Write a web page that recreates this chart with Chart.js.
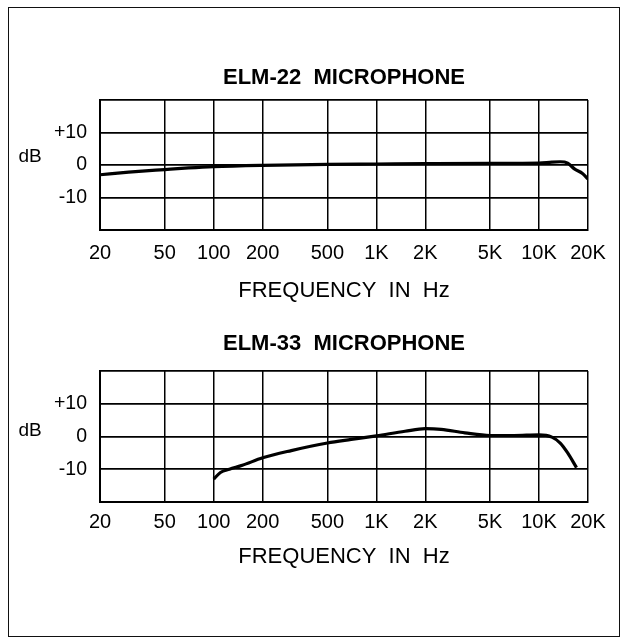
<!DOCTYPE html>
<html><head><meta charset="utf-8">
<script src="https://cdn.jsdelivr.net/npm/chart.js@4.4.1/dist/chart.umd.min.js"></script>
<style>
html,body{margin:0;padding:0;background:#fff;}
body{width:626px;height:644px;position:relative;overflow:hidden;}
#frame{position:absolute;left:8px;top:7px;width:612px;height:630px;border:1.5px solid #111;box-sizing:border-box;}
.wrap{position:absolute;left:0;width:626px;}
#w1{top:0;height:320px;}
#w2{top:271px;height:321px;}
canvas{display:block;}
</style></head><body>
<div id="frame"></div>
<div class="wrap" id="w1"><canvas id="c1" width="626" height="320"></canvas></div>
<div class="wrap" id="w2"><canvas id="c2" width="626" height="321"></canvas></div>
<script>
// ---- data ----
const chartTitles = ['ELM-22  MICROPHONE', 'ELM-33  MICROPHONE'];
const xAxisTitle = 'FREQUENCY  IN  Hz';
const yAxisLabel = 'dB';
const xTickValues = [20, 50, 100, 200, 500, 1000, 2000, 5000, 10000, 20000];
const xTickLabels = ['20', '50', '100', '200', '500', '1K', '2K', '5K', '10K', '20K'];
const yGridValues = [-20, -10, 0, 10, 20];
const yTickValues = [-10, 0, 10];
const yTickLabels = ['-10', '0', '+10'];

const elm22Freq = [20, 30, 50, 70, 100, 200, 500, 1000, 2000, 5000, 10000, 12000, 13500, 15000, 16500, 18500, 20000];
const elm22Db   = [-3.0, -2.2, -1.4, -0.9, -0.5, -0.1, 0.2, 0.3, 0.4, 0.5, 0.6, 0.9, 1.0, 0.6, -1.2, -2.6, -4.3];

const elm33Freq = [100, 110, 125, 150, 200, 300, 500, 700, 1000, 1500, 2000, 2500, 3500, 5000, 7000, 10000, 12000, 13500, 15000, 17000];
const elm33Db   = [-13.0, -11.0, -10.0, -8.8, -6.5, -4.3, -2.0, -0.9, 0.2, 1.6, 2.4, 2.2, 1.1, 0.3, 0.3, 0.5, -0.2, -2.0, -5.0, -9.5];

const FONT = '"Liberation Sans", Arial, Helvetica, sans-serif';

const dbLabelPlugin = {
  id: 'dbLabel',
  afterDraw(chart, args, opts) {
    const {ctx} = chart;
    const y = chart.scales.y;
    ctx.save();
    ctx.font = '19px ' + FONT;
    ctx.fillStyle = '#000';
    ctx.textAlign = 'center';
    ctx.textBaseline = 'middle';
    ctx.fillText(yAxisLabel, opts.x, y.getPixelForValue(0) - opts.dy);
    ctx.restore();
  }
};

function makeChart(id, title, freq, db, L) {
  const pts = freq.map((f, i) => ({x: f, y: db[i]}));
  return new Chart(document.getElementById(id), {
    type: 'line',
    data: { datasets: [{ data: pts, borderColor: '#000', borderWidth: 3.2, pointRadius: 0,
      cubicInterpolationMode: 'monotone', fill: false }] },
    plugins: [dbLabelPlugin],
    options: {
      responsive: false, animation: false, devicePixelRatio: 1,
      layout: { padding: { left: 0, right: 38, top: 0, bottom: 0 } },
      plugins: {
        legend: { display: false }, tooltip: { enabled: false },
        title: { display: true, text: title, fullSize: false, color: '#000',
          font: { family: FONT, size: 22, weight: 'bold', lineHeight: 1.2 },
          padding: { top: L.titleTop, bottom: L.titleBottom } },
        dbLabel: { x: 30, dy: L.dbDy }
      },
      scales: {
        x: {
          type: 'logarithmic', min: 20, max: 20000,
          afterBuildTicks: s => { s.ticks = xTickValues.map(v => ({value: v})); },
          afterFit: s => { s.height = 90; },
          ticks: { autoSkip: false, maxRotation: 0, minRotation: 0, color: '#000', padding: L.tickPad,
            font: { family: FONT, size: 20, lineHeight: 1.2 },
            callback: function(v) { const i = xTickValues.indexOf(v); return i >= 0 ? xTickLabels[i] : ''; } },
          grid: { color: '#000', lineWidth: 1.5, drawTicks: false },
          border: { display: true, color: '#000', width: 2 },
          title: { display: true, text: xAxisTitle, color: '#000',
            font: { family: FONT, size: 22, lineHeight: 1.2 },
            padding: { top: 0, bottom: L.xTitleBottom } }
        },
        y: {
          type: 'linear', min: -20, max: 20,
          afterBuildTicks: s => { s.ticks = yGridValues.map(v => ({value: v})); },
          afterFit: s => { s.width = 100; },
          ticks: { color: '#000', padding: 13, font: { family: FONT, size: 19.5, lineHeight: 1.2 },
            callback: function(v) { const i = yTickValues.indexOf(v); return i >= 0 ? yTickLabels[i] : ''; } },
          grid: { color: '#000', lineWidth: 1.8, drawTicks: false },
          border: { display: true, color: '#000', width: 2 }
        }
      }
    }
  });
}

makeChart('c1', chartTitles[0], elm22Freq, elm22Db, { titleTop: 64.4, titleBottom: 9.2, tickPad: 11, xTitleBottom: 15.8, dbDy: 8 });
makeChart('c2', chartTitles[1], elm33Freq, elm33Db, { titleTop: 59.8, titleBottom: 13.8, tickPad: 8, xTitleBottom: 21.8, dbDy: 6 });
</script>
</body></html>
